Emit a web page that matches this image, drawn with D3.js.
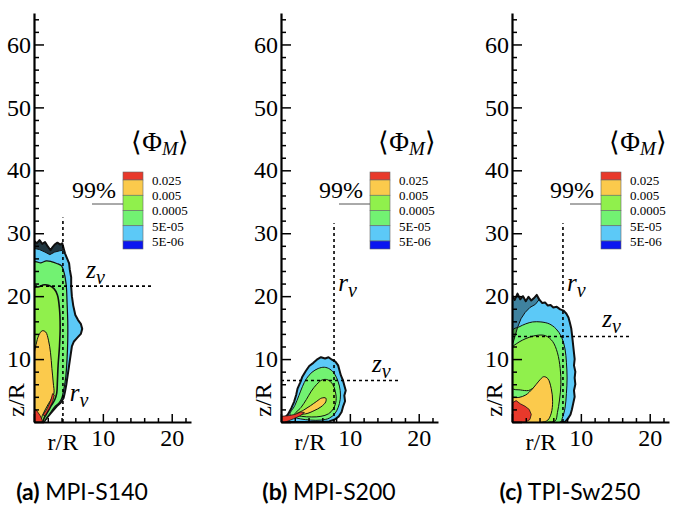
<!DOCTYPE html>
<html>
  <head>
    <meta charset="utf-8">
    <title>Mass fraction contours</title>
    <style>
      body { margin: 0; background: #fff; }
      svg { display: block; }
    </style>
    <script src="https://d3js.org/d3.v7.min.js"></script>
  </head>
  <body>
    <script>
      // legend levels and colours (top to bottom)
      var levelLabels = ["0.025", "0.005", "0.0005", "5E-05", "5E-06"];
      var levelColors = ["#e8392b", "#fbca4c", "#90f04c", "#72f272", "#5cc9f7", "#0b16f0"];
      var captionTag = ["(a)", "(b)", "(c)"];
      var captionName = ["MPI-S140", "MPI-S200", "TPI-Sw250"];

      // tick values
      var zMajor = [0, 10, 20, 30, 40, 50, 60];
      var zLabels = [10, 20, 30, 40, 50, 60];
      var rMajor = [0, 10, 20];
      var rLabels = [10, 20];

      // dashed r_v / z_v lines per panel
      var rv = [4.2, 7.7, 7.4];
      var rvTop = [32.5, 31.6, 31.6];
      var zv = [21.6, 6.6, 13.6];
      var zvEnd = [17.4, 17.4, 17.2];

      // contour outlines, [r/R, z/R]
      var aBlue = [[0,28.8],[0.4,28.4],[0.8,28.9],[1.2,28.3],[1.6,28.6],[2.0,27.9],[2.4,27.3],[2.7,27.8],[3.0,28.2],[3.4,28.5],[3.8,28.2],[4.1,28.4],[4.3,27.6],[4.5,26.8],[4.8,26.0],[5.1,25.2],[5.2,24.2],[5.4,23.0],[5.4,21.5],[5.5,20.0],[5.7,18.5],[6.0,17.0],[6.4,16.2],[6.8,15.6],[7.0,14.8],[6.8,14.0],[6.3,13.4],[5.8,12.8],[5.5,12.0],[5.3,10.5],[5.1,9.0],[4.9,7.5],[4.7,6.0],[4.5,4.8],[4.3,3.8],[3.9,3.1],[3.3,2.5],[2.6,1.6],[1.9,0.7],[1.4,0],[0,0]];
      var aGreen = [[0,25.4],[1,25.3],[1.8,25.6],[2.5,25.5],[3.3,25.2],[4.0,24.8],[4.4,23.6],[4.7,21.5],[4.8,19],[4.9,16],[4.9,13],[4.8,10],[4.6,7],[4.3,5],[4.0,3.7],[3.6,3.0],[3.0,2.4],[2.4,1.5],[1.8,0.6],[1.4,0],[0,0]];
      var aYgreen = [[0,21.3],[0.7,21.5],[1.5,21.8],[2.2,21.7],[2.9,21.2],[3.4,20.2],[3.7,18],[3.8,15],[3.7,12],[3.5,9],[3.4,6.5],[3.3,4.6],[3.0,3.5],[2.5,2.6],[2.0,1.6],[1.5,0.7],[1.2,0],[0,0]];
      var aOrange = [[0,10.5],[0.3,12.3],[0.7,13.8],[1.2,14.5],[1.7,14.3],[2.1,13],[2.4,11],[2.6,8.5],[2.8,6.2],[2.9,4.6],[2.6,3.8],[2.1,2.9],[1.6,1.9],[1.2,1.0],[0.9,0],[0,0]];
      var aRed = [[0,0],[0,2.2],[0.4,1.8],[0.9,1.0],[1.2,0.3],[1.2,0]];
      var aRed2 = [[1.3,1.1],[1.9,2.1],[2.4,3.3],[2.7,4.5],[2.95,4.3],[2.7,3.2],[2.2,2.1],[1.6,1.0]];
      var aFringe = [[0,27.6],[0.8,27.4],[1.6,27.0],[2.3,26.6],[3.0,27.0],[3.7,27.2],[4.2,27.3],[4.1,28.4],[3.8,28.2],[3.4,28.5],[3.0,28.2],[2.7,27.8],[2.4,27.3],[2.0,27.9],[1.6,28.6],[1.2,28.3],[0.8,28.9],[0.4,28.4],[0,28.8]];

      var bBlue = [[0.2,0],[0.5,0.6],[1.0,1.2],[1.5,2.2],[1.9,3.2],[2.2,4.3],[2.4,5.3],[2.8,6.3],[3.1,7.2],[3.6,8.1],[4.1,8.9],[4.7,9.4],[5.2,9.9],[5.8,10.3],[6.4,10.1],[6.9,10.3],[7.4,9.9],[7.9,9.6],[8.3,9.0],[8.5,8.2],[8.7,7.4],[9.0,6.6],[9.2,5.8],[9.4,5.0],[9.2,4.2],[9.3,3.3],[9.0,2.4],[8.8,1.6],[8.4,0.9],[7.8,0.4],[7.0,0.1],[6.0,0]];
      var bGreen = [[1.3,1.2],[2.0,2.6],[2.6,4.2],[3.1,5.6],[3.7,6.9],[4.5,7.9],[5.4,8.5],[6.3,8.7],[7.1,8.4],[7.8,7.6],[8.3,6.4],[8.6,5.0],[8.6,3.6],[8.3,2.3],[7.8,1.3],[7.0,0.6],[5.8,0.3],[4.3,0.3],[2.8,0.5],[1.8,0.8]];
      var bYgreen = [[2.0,1.2],[2.9,2.3],[3.7,3.6],[4.4,4.9],[5.2,6.0],[6.0,6.7],[6.8,6.7],[7.5,6.0],[7.9,4.8],[8.0,3.4],[7.6,2.1],[6.9,1.3],[5.8,0.9],[4.4,0.8],[3.0,0.9]];
      var bOrange = [[2.3,1.3],[3.3,1.9],[4.3,2.6],[5.2,3.3],[5.9,3.8],[6.5,3.8],[6.5,3.2],[5.8,2.4],[4.8,1.8],[3.6,1.3]];
      var bRed = [[0,0],[0,0.9],[1.0,1.0],[2.0,1.2],[2.9,1.6],[3.4,1.5],[2.8,1.0],[1.8,0.5],[0.9,0.1],[0.5,0]];

      var cBlue = [[0,20.2],[0.4,19.4],[0.8,20.4],[1.2,19.5],[1.6,20.0],[2.0,19.2],[2.4,19.9],[2.8,19.3],[3.2,19.7],[3.6,20.2],[4.0,19.4],[4.4,18.9],[4.8,19.0],[5.2,18.5],[5.6,18.6],[6.0,18.2],[6.5,18.3],[7.0,17.9],[7.5,17.7],[7.9,17.2],[8.2,16.6],[8.4,15.8],[8.6,14.9],[8.7,14.0],[8.8,13.0],[8.9,12.0],[9.0,11.0],[9.1,10.0],[9.0,9.0],[9.2,8.0],[9.1,7.0],[9.2,6.0],[9.0,5.0],[9.1,4.0],[8.9,3.0],[8.7,2.0],[8.5,1.2],[8.1,0.5],[7.7,0],[0,0]];
      var cGreen = [[0,14.5],[1.0,15.1],[2.0,15.6],[3.0,15.9],[4.2,15.9],[5.4,15.6],[6.4,14.8],[7.2,13.5],[7.7,11.6],[7.9,9.5],[8.0,7.0],[7.9,4.5],[7.7,2.2],[7.3,0.6],[7.0,0],[0,0]];
      var cYgreen = [[0,5.4],[0,11.8],[0.6,12.4],[1.5,13.0],[2.6,13.5],[3.8,13.8],[4.9,13.7],[5.9,12.8],[6.6,11.0],[7.0,8.5],[7.1,6.0],[6.9,3.5],[6.6,1.5],[6.3,0.2],[5.5,0],[4.0,0],[3.8,3],[3.3,5.4],[2.4,5.0],[1.2,5.1]];
      var cOrange = [[0,3.8],[1.0,3.9],[2.0,4.3],[3.0,5.3],[3.9,6.5],[4.6,7.2],[5.2,6.9],[5.7,5.3],[5.9,3.3],[5.7,1.4],[5.2,0.3],[4.5,0],[0,0]];
      var cRed = [[0,0],[0,3.0],[0.6,3.4],[1.2,2.9],[1.9,2.5],[2.5,2.0],[2.8,1.2],[2.6,0.4],[2.0,0]];
      var cFringe = [[0,12],[0.4,13.5],[0.8,15],[1.3,16.4],[1.9,17.4],[2.6,18.2],[3.4,18.7],[3.9,19.4],[3.6,20.2],[3.2,19.7],[2.8,19.3],[2.4,19.9],[2.0,19.2],[1.6,20.0],[1.2,19.5],[0.8,20.4],[0.4,19.4],[0,20.2]];

      // r_v / z_v label anchor points, data units
      var rvLabel = [[5.2, 3.3], [8.3, 20.8], [8.0, 20.8]];
      var zvLabel = [[7.6, 22.9], [13.2, 7.9], [13.1, 15.1]];

      var width = 684, height = 509;
      var panelX = [34, 281, 512];
      var plotW = 157, yBase = 422, yTop = 13;
      var serif = "'Liberation Serif', 'Times New Roman', serif";

      var svg = d3.select("body").append("svg")
          .attr("width", width)
          .attr("height", height);

      // layers per panel: [points, colour index, smooth?, stroke width]
      var panels = [
        [[aBlue, 4, false, 2.0], [aGreen, 3, true, 1.2], [aYgreen, 2, true, 1.6], [aOrange, 1, true, 1], [aRed, 0, false, 0.8], [aRed2, 0, false, 0.8]],
        [[bBlue, 4, false, 2.0], [bGreen, 3, true, 1], [bYgreen, 2, true, 1], [bOrange, 1, true, 1], [bRed, 0, false, 0.8]],
        [[cBlue, 4, false, 2.0], [cGreen, 3, true, 1], [cYgreen, 2, true, 1], [cOrange, 1, true, 1], [cRed, 0, false, 0.8]]
      ];
      var fringes = [aFringe, null, cFringe];

      panels.forEach(function(layers, i) {
        var x0 = panelX[i];
        var x = d3.scaleLinear().domain([0, 22.8]).range([x0, x0 + plotW]);
        var y = d3.scaleLinear().domain([0, 65]).range([yBase, yTop]);
        var g = svg.append("g");

        g.append("clipPath").attr("id", "clip" + i)
          .append("rect")
          .attr("x", x0).attr("y", yTop)
          .attr("width", plotW).attr("height", yBase - yTop);

        var body = g.append("g").attr("clip-path", "url(#clip" + i + ")");
        var smooth = d3.line().x(function(d) { return x(d[0]); }).y(function(d) { return y(d[1]); })
          .curve(d3.curveCatmullRomClosed.alpha(0.5));
        var rough = d3.line().x(function(d) { return x(d[0]); }).y(function(d) { return y(d[1]); })
          .curve(d3.curveLinearClosed);

        layers.forEach(function(l) {
          body.append("path")
            .attr("d", (l[2] ? smooth : rough)(l[0]))
            .attr("fill", levelColors[l[1]])
            .attr("stroke", "#111")
            .attr("stroke-width", l[3])
            .attr("stroke-linejoin", "round");
        });
        if (fringes[i]) {
          body.append("path").attr("d", rough(fringes[i]))
            .attr("fill", "#111").attr("fill-opacity", i === 2 ? 0.38 : 0.8)
            .attr("stroke", "#111").attr("stroke-width", 1);
        }

        // dashed lines
        var dash = d3.line().x(function(d) { return x(d[0]); }).y(function(d) { return y(d[1]); });
        g.append("path").attr("d", dash([[rv[i], 0], [rv[i], rvTop[i]]]))
          .attr("stroke", "#000").attr("stroke-width", 1.6).attr("stroke-dasharray", "3,3").attr("fill", "none");
        g.append("path").attr("d", dash([[0, zv[i]], [zvEnd[i], zv[i]]]))
          .attr("stroke", "#000").attr("stroke-width", 1.6).attr("stroke-dasharray", "3,3").attr("fill", "none");

        var rt = g.append("text").attr("x", x(rvLabel[i][0])).attr("y", y(rvLabel[i][1]))
          .style("font-family", serif).attr("font-style", "italic").attr("font-size", 25);
        rt.append("tspan").text("r");
        rt.append("tspan").attr("dy", 6).attr("font-size", 20).text("v");
        var zt = g.append("text").attr("x", x(zvLabel[i][0])).attr("y", y(zvLabel[i][1]))
          .style("font-family", serif).attr("font-style", "italic").attr("font-size", 25);
        zt.append("tspan").text("z");
        zt.append("tspan").attr("dy", 6).attr("font-size", 20).text("v");

        // axes: ticks point into the plot
        var zMinor = d3.range(0, 65, 2).filter(function(v) { return v % 10 !== 0; });
        var rMinor = d3.range(0, 23, 2).filter(function(v) { return v % 10 !== 0; });

        var yAx = g.append("g").attr("transform", "translate(" + x0 + ",0)");
        yAx.call(d3.axisRight(y).tickValues(zMinor).tickSize(5).tickSizeOuter(0).tickFormat(""));
        yAx.append("g").call(d3.axisRight(y).tickValues(zMajor).tickSize(10).tickSizeOuter(0).tickFormat(""))
          .select(".domain").remove();
        yAx.selectAll("path, line").attr("stroke", "#000").attr("stroke-width", 1.5);
        yAx.select(".domain").attr("stroke-width", 2.2);

        var yLab = g.append("g").attr("transform", "translate(" + (x0 - 1) + ",0)")
          .call(d3.axisLeft(y).tickValues(zLabels).tickSize(0).tickPadding(2));
        yLab.select(".domain").remove();
        yLab.selectAll("text").style("font-family", serif).attr("font-size", 24).attr("fill", "#000");

        var xAx = g.append("g").attr("transform", "translate(0," + yBase + ")");
        xAx.call(d3.axisTop(x).tickValues(rMinor).tickSize(4).tickSizeOuter(0).tickFormat(""));
        xAx.append("g").call(d3.axisTop(x).tickValues(rMajor).tickSize(8).tickSizeOuter(0).tickFormat(""))
          .select(".domain").remove();
        xAx.selectAll("path, line").attr("stroke", "#000").attr("stroke-width", 1.5);
        xAx.select(".domain").attr("stroke-width", 2.2);

        var xLab = g.append("g").attr("transform", "translate(0," + yBase + ")")
          .call(d3.axisBottom(x).tickValues(rLabels).tickSize(0).tickPadding(7));
        xLab.select(".domain").remove();
        xLab.selectAll("text").style("font-family", serif).attr("font-size", 24).attr("fill", "#000");

        g.append("text").attr("x", x(4.2)).attr("y", 450)
          .attr("text-anchor", "middle").style("font-family", serif).attr("font-size", 24)
          .text("r/R");
        g.append("text").attr("transform", "translate(" + (x0 - 10) + ",400) rotate(-90)")
          .attr("text-anchor", "middle").style("font-family", serif).attr("font-size", 24)
          .text("z/R");

        // legend
        var ly = d3.scaleLinear().domain([0, levelLabels.length - 1]).range([180, 241]);
        var edges = [172].concat(levelLabels.map(function(d, k) { return ly(k); })).concat([249]);
        var lg = g.append("g");
        levelColors.forEach(function(c, k) {
          lg.append("rect")
            .attr("x", x0 + 89).attr("y", edges[k])
            .attr("width", 20).attr("height", edges[k + 1] - edges[k])
            .attr("fill", c).attr("stroke", "#666").attr("stroke-width", 0.6);
        });
        levelLabels.forEach(function(t, k) {
          lg.append("text").attr("x", x0 + 118).attr("y", ly(k) + 2)
            .attr("dominant-baseline", "middle")
            .style("font-family", serif).attr("font-size", 13).text(t);
        });
        var tt = lg.append("text").attr("x", x0 + 126).attr("y", 151)
          .attr("text-anchor", "middle").style("font-family", serif).attr("font-size", 27);
        tt.append("tspan").text("\u27E8\u03A6");
        tt.append("tspan").attr("dy", 4).attr("font-size", 19).attr("font-style", "italic").text("M");
        tt.append("tspan").attr("dy", -4).text("\u27E9");

        lg.append("text").attr("x", x0 + 38).attr("y", 198)
          .style("font-family", serif).attr("font-size", 24).text("99%");
        lg.append("line").attr("x1", x0 + 58).attr("x2", x0 + 89)
          .attr("y1", 204).attr("y2", 204)
          .attr("stroke", "#555").attr("stroke-width", 1);

        // caption
        var cap = svg.append("text").attr("x", x0 + (i === 2 ? 58 : 48)).attr("y", 500)
          .attr("text-anchor", "middle").style("font-family", "Lato, 'Open Sans', sans-serif")
          .attr("font-size", 23);
        cap.append("tspan").attr("font-weight", "bold").text(captionTag[i] + " ");
        cap.append("tspan").text(captionName[i]);
      });
    </script>
  </body>
</html>
